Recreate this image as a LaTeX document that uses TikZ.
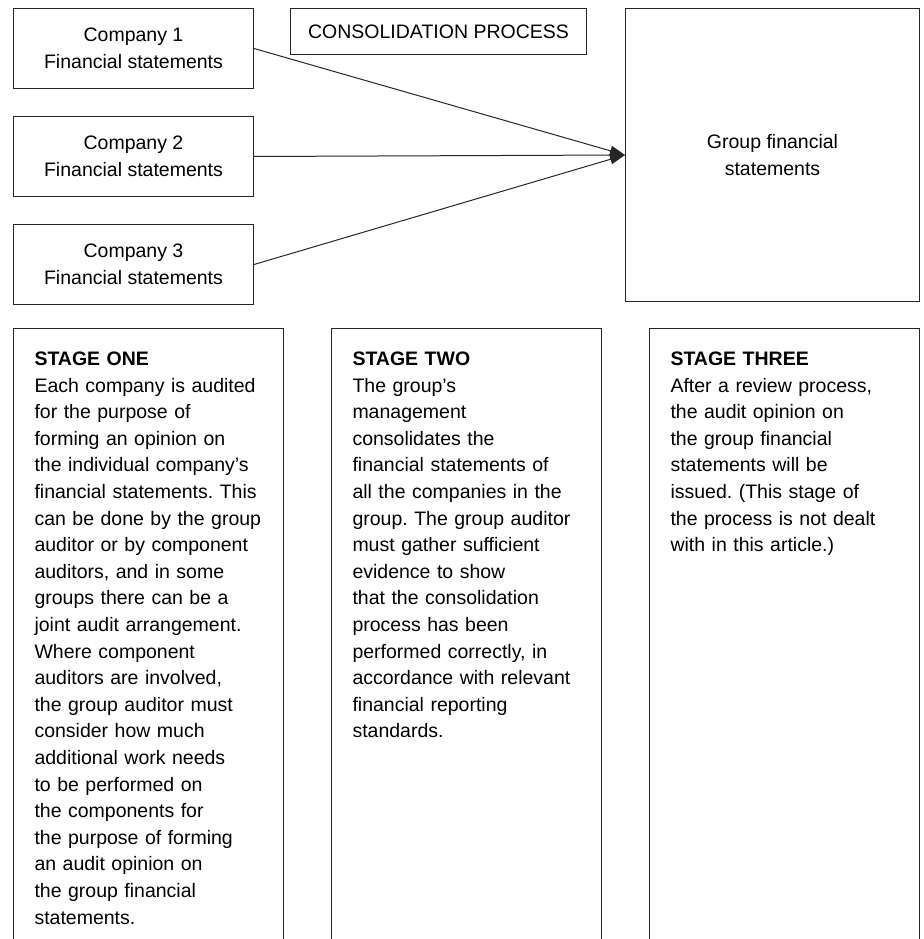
\documentclass[tikz,border=0pt]{standalone}
\usepackage{fontspec}
\setmainfont{Liberation Sans}
\usetikzlibrary{arrows.meta,positioning}
\frenchspacing

\begin{document}
\begin{tikzpicture}[
  x=1pt, y=-1pt,
  node distance=27pt and 47pt,
  every node/.style={font=\fontsize{19.5}{26.6}\selectfont},
  box/.style={draw=black!85, line width=1pt},
  company/.style={box, minimum width=240pt, minimum height=80pt,
    align=center, inner sep=0pt},
  stagebox/.style={box, text width=228pt, inner xsep=21pt, inner ysep=23pt,
    align=left, text height=14pt, text depth=620pt},
  arr/.style={-{Triangle[length=15pt, width=10pt]}, line width=1pt, draw=black!85}
]
  \useasboundingbox (0,0) rectangle (923,939);
  \clip (0,0) rectangle (923,939);

  % consolidation
  \node[company, anchor=north west] (comp1) at (13,8) {Company 1\\Financial statements};
  \node[company, below=of comp1] (comp2) {Company 2\\Financial statements};
  \node[company, below=of comp2] (comp3) {Company 3\\Financial statements};
  \node[box, anchor=north west, minimum width=296pt, minimum height=46pt,
    inner sep=0pt] (cons) at (290,8) {CONSOLIDATION PROCESS};
  \node[box, anchor=north west, minimum width=294pt, minimum height=293pt,
    align=center, inner sep=0pt] (group) at (625,8) {Group financial\\statements};

  \draw[arr] (comp1.east) -- (group.west);
  \draw[arr] (comp2.east) -- (group.west);
  \draw[arr] (comp3.east) -- (group.west);

  % stages
  \node[stagebox, anchor=north west] (stage1) at (13,328) {\textbf{STAGE ONE}\\
    Each company is audited\\for the purpose of\\forming an opinion on\\
    the individual company’s\\financial statements. This\\can be done by the group\\
    auditor or by component\\auditors, and in some\\groups there can be a\\
    joint audit arrangement.\\Where component\\auditors are involved,\\
    the group auditor must\\consider how much\\additional work needs\\
    to be performed on\\the components for\\the purpose of forming\\
    an audit opinion on\\the group financial\\statements.};
  \node[stagebox, right=of stage1] (stage2) {\textbf{STAGE TWO}\\
    The group’s\\management\\consolidates the\\financial statements of\\
    all the companies in the\\group. The group auditor\\must gather sufficient\\
    evidence to show\\that the consolidation\\process has been\\
    performed correctly, in\\accordance with relevant\\financial reporting\\standards.};
  \node[stagebox, right=of stage2] (stage3) {\textbf{STAGE THREE}\\
    After a review process,\\the audit opinion on\\the group financial\\
    statements will be\\issued. (This stage of\\the process is not dealt\\
    with in this article.)};
\end{tikzpicture}
\end{document}
